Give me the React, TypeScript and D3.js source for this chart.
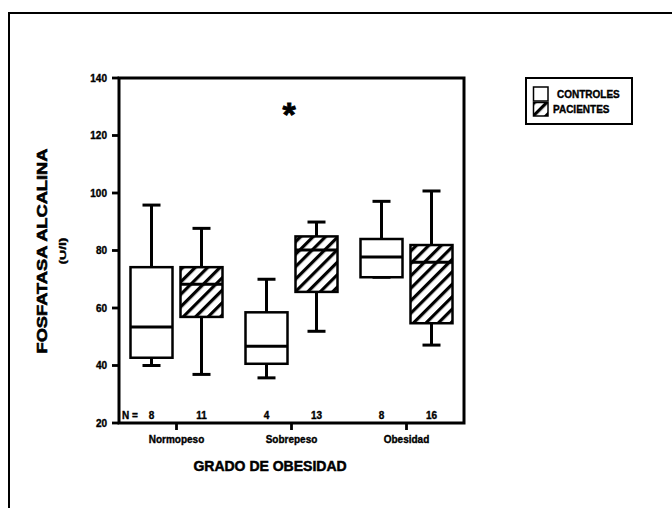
import React from "react";
import * as d3 from "d3";

// Weight groups along the x axis
const categories = ["Normopeso", "Sobrepeso", "Obesidad"];
const series = ["CONTROLES", "PACIENTES"];

// Box statistics per group: [min, q1, median, q3, max]
const controles = [
  [40, 42.7, 53.4, 74.2, 95.8],
  [35.7, 40.6, 46.7, 58.5, 70],
  [70.7, 70.7, 77.7, 84, 97.1],
];
const pacientes = [
  [36.9, 56.9, 68.3, 74.2, 87.7],
  [51.9, 65.6, 80.2, 84.9, 89.9],
  [47.1, 54.7, 75.9, 81.9, 100.7],
];
const nControles = [8, 4, 8];
const nPacientes = [11, 13, 16];
const yTicks = [20, 40, 60, 80, 100, 120, 140];

const FONT = "Arial, 'Liberation Sans', Helvetica, sans-serif";

export default function App() {
  const left = 119;
  const right = 464;
  const top = 78;
  const bottom = 423;

  const y = d3.scaleLinear().domain([20, 140]).range([bottom, top]);
  const x = d3.scaleBand<string>().domain(categories).range([left, right]);
  const half = x.bandwidth() / 2;
  const sub = d3
    .scaleBand<string>()
    .domain(series)
    .range([half - 46, half + 46])
    .paddingInner(0.16);
  const bw = sub.bandwidth();
  const capW = 18;

  const boxes: { key: string; x0: number; s: number[]; fill: string }[] = [];
  categories.forEach((c, i) => {
    boxes.push({ key: c + "-c", x0: (x(c) as number) + (sub("CONTROLES") as number), s: controles[i], fill: "#fff" });
    boxes.push({ key: c + "-p", x0: (x(c) as number) + (sub("PACIENTES") as number), s: pacientes[i], fill: "url(#hatch)" });
  });

  const counts: { key: string; cx: number; n: number }[] = [];
  categories.forEach((c, i) => {
    counts.push({ key: c + "-nc", cx: (x(c) as number) + (sub("CONTROLES") as number) + bw / 2, n: nControles[i] });
    counts.push({ key: c + "-np", cx: (x(c) as number) + (sub("PACIENTES") as number) + bw / 2, n: nPacientes[i] });
  });

  const ink = { fill: "#000", stroke: "#000", strokeWidth: 0.35 };

  return (
    <svg
      width={672}
      height={508}
      style={{ position: "absolute", left: 0, top: 0, display: "block", background: "#fff" }}
      fontFamily={FONT}
      fontWeight="bold"
    >
      <defs>
        <pattern id="hatch" patternUnits="userSpaceOnUse" width={8.8} height={10} patternTransform="rotate(45)">
          <rect width={8.8} height={10} fill="#fff" />
          <line x1={1.6} y1={0} x2={1.6} y2={10} stroke="#000" strokeWidth={3.2} />
        </pattern>
      </defs>

      {/* outer figure frame */}
      <rect x={9} y={13} width={700} height={600} fill="none" stroke="#000" strokeWidth={2} />

      {/* plot frame */}
      <rect x={left} y={top} width={right - left} height={bottom - top} fill="none" stroke="#000" strokeWidth={3} />

      {/* y axis ticks and labels */}
      {yTicks.map((t) => (
        <g key={t}>
          <line x1={112} x2={left} y1={y(t)} y2={y(t)} stroke="#000" strokeWidth={2.8} />
          <text x={107} y={y(t) + 3.5} fontSize={10} textAnchor="end" {...ink}>
            {t}
          </text>
        </g>
      ))}

      {/* x axis ticks and category labels */}
      {categories.map((c) => {
        const cx = (x(c) as number) + half;
        return (
          <g key={c}>
            <line x1={cx} x2={cx} y1={bottom} y2={bottom + 7} stroke="#000" strokeWidth={2.8} />
            <text x={cx} y={443} fontSize={10} textAnchor="middle" {...ink}>
              {c}
            </text>
          </g>
        );
      })}

      {/* box plots */}
      {boxes.map((b) => {
        const [mn, q1, md, q3, mx] = b.s;
        const cx = b.x0 + bw / 2;
        return (
          <g key={b.key} stroke="#000">
            <line x1={cx} x2={cx} y1={y(q3)} y2={y(mx)} strokeWidth={3} />
            <line x1={cx - capW / 2} x2={cx + capW / 2} y1={y(mx)} y2={y(mx)} strokeWidth={3} />
            <line x1={cx} x2={cx} y1={y(q1)} y2={y(mn)} strokeWidth={3} />
            <line x1={cx - capW / 2} x2={cx + capW / 2} y1={y(mn)} y2={y(mn)} strokeWidth={3} />
            <rect x={b.x0} y={y(q3)} width={bw} height={y(q1) - y(q3)} fill={b.fill} strokeWidth={2.5} />
            <line x1={b.x0} x2={b.x0 + bw} y1={y(md)} y2={y(md)} strokeWidth={3} />
          </g>
        );
      })}

      {/* sample sizes */}
      <text x={122} y={419} fontSize={10} {...ink}>
        N =
      </text>
      {counts.map((c) => (
        <text key={c.key} x={c.cx} y={419} fontSize={10} textAnchor="middle" {...ink}>
          {c.n}
        </text>
      ))}

      {/* significance mark */}
      <text x={289} y={126} fontSize={34} textAnchor="middle" {...ink} strokeWidth={0.8}>
        *
      </text>

      {/* axis titles */}
      <text
        transform="translate(47,251) rotate(-90)"
        fontSize={15}
        textAnchor="middle"
        textLength={205}
        lengthAdjust="spacingAndGlyphs"
        {...ink}
        strokeWidth={0.6}
      >
        FOSFATASA ALCALINA
      </text>
      <text
        transform="translate(66,251) rotate(-90)"
        fontSize={9}
        textAnchor="middle"
        textLength={27}
        lengthAdjust="spacingAndGlyphs"
        {...ink}
      >
        (U/l)
      </text>
      <text x={270} y={471} fontSize={14} textAnchor="middle" {...ink} strokeWidth={0.5}>
        GRADO DE OBESIDAD
      </text>

      {/* legend */}
      <rect x={526} y={78} width={106} height={46} fill="#fff" stroke="#000" strokeWidth={2} />
      <rect x={533.5} y={87} width={14.5} height={14} fill="#fff" stroke="#000" strokeWidth={1.5} />
      <rect x={533.5} y={102.5} width={14.5} height={13.5} fill="url(#hatch)" stroke="#000" strokeWidth={1.5} />
      <text x={557} y={98} fontSize={10} {...ink}>
        {series[0]}
      </text>
      <text x={553} y={113} fontSize={10} {...ink}>
        {series[1]}
      </text>
    </svg>
  );
}
